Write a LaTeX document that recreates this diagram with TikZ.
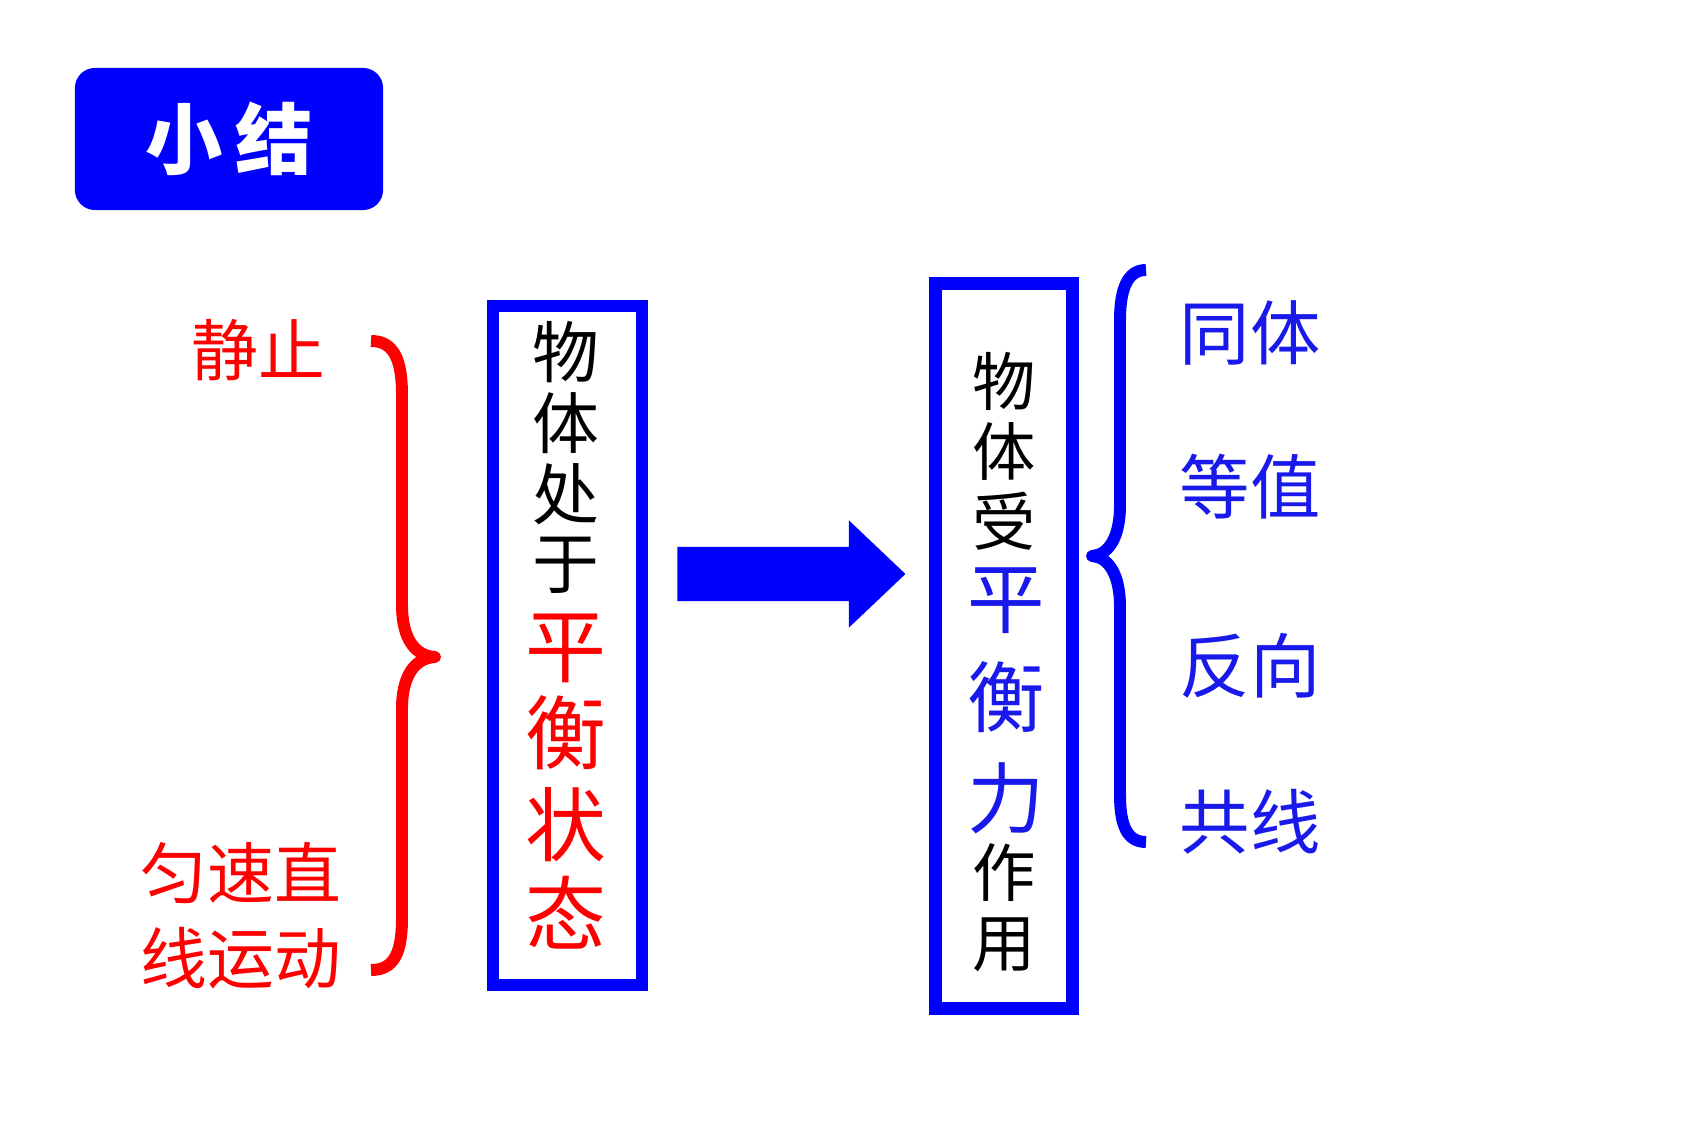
\documentclass[tikz,border=0pt]{standalone}
\usepackage{fontspec}
\setmainfont{Noto Sans CJK SC}
\usetikzlibrary{shapes.arrows}
\definecolor{boxblue}{RGB}{0,0,255}
\definecolor{hired}{RGB}{255,0,0}
\definecolor{txtblue}{RGB}{25,25,235}
\begin{document}
\begin{tikzpicture}[x=0.01cm,y=-0.01cm,
	  kuang/.style={draw=boxblue,inner sep=0pt},
	  zi/.style={inner sep=0pt,font=\fontsize{19pt}{19pt}\selectfont},
	  dazi/.style={inner sep=0pt,font=\fontsize{23pt}{23pt}\selectfont},
	  youzi/.style={inner sep=0pt,text=txtblue,font=\fontsize{20pt}{20pt}\selectfont}]
	  \useasboundingbox (0,0) rectangle (1700,1134);
	  \node[fill=boxblue,rounded corners=0.2cm,minimum width=3.08cm,minimum height=1.42cm,
	    text=white,font=\fontsize{22pt}{22pt}\selectfont\bfseries] (title) at (229,139) {小\hspace{0.13cm}结};
	  % left brace
	  \node[zi,text=hired] (r1) at (258,350) {静止};
	  \node[zi,text=hired] (r2) at (241,873) {匀速直};
	  \node[zi,text=hired] (r3) at (241,958) {线运动};
	  \draw[hired,line width=3.4pt,line join=round] (371,341) .. controls (394,341) and (402,360) .. (402,395)
	    -- (402,605) .. controls (402,640) and (416,656) .. (435,657)
	    .. controls (416,658) and (402,674) .. (402,709)
	    -- (402,918) .. controls (402,953) and (394,970) .. (371,970);
	  % box 1
	  \node[kuang,line width=3.4pt,minimum width=1.49cm,minimum height=6.79cm] (box1) at (567.5,645.5) {};
	  \node[zi] (a1) at (566,352) {物};
	  \node[zi] (a2) at (566,423) {体};
	  \node[zi] (a3) at (566,494) {处};
	  \node[zi] (a4) at (566,565) {于};
	  \node[dazi,text=hired] (a5) at (566,648) {平};
	  \node[dazi,text=hired] (a6) at (566,733) {衡};
	  \node[dazi,text=hired] (a7) at (566,825) {状};
	  \node[dazi,text=hired] (a8) at (566,913) {态};
	  % arrow
	  \node[single arrow,fill=boxblue,inner xsep=0pt,inner ysep=0.265cm,single arrow head extend=0.265cm,
	    single arrow tip angle=87,minimum height=2.28cm] (jiantou) at (777,574) {};
	  % box 2
	  \node[kuang,line width=3.7pt,minimum width=1.365cm,minimum height=7.24cm] (box2) at (1003.75,646) {};
	  \node[zi,font=\fontsize{18pt}{18pt}\selectfont] (b1) at (1004,381) {物};
	  \node[zi,font=\fontsize{18pt}{18pt}\selectfont] (b2) at (1004,451) {体};
	  \node[zi,font=\fontsize{18pt}{18pt}\selectfont] (b3) at (1004,521) {受};
	  \node[dazi,text=txtblue,font=\fontsize{22pt}{22pt}\selectfont] (b4) at (1006,601) {平};
	  \node[dazi,text=txtblue,font=\fontsize{22pt}{22pt}\selectfont] (b5) at (1006,697) {衡};
	  \node[dazi,text=txtblue,font=\fontsize{22pt}{22pt}\selectfont] (b6) at (1006,798) {力};
	  \node[zi,font=\fontsize{18pt}{18pt}\selectfont] (b7) at (1004,873) {作};
	  \node[zi,font=\fontsize{18pt}{18pt}\selectfont] (b8) at (1004,945) {用};
	  % right brace
	  \draw[boxblue,line width=3.4pt,line join=round] (1146,270) .. controls (1128,270) and (1120,288) .. (1120,320)
	    -- (1120,505) .. controls (1120,540) and (1107,555) .. (1092,556)
	    .. controls (1107,557) and (1120,572) .. (1120,607)
	    -- (1120,795) .. controls (1120,827) and (1128,842) .. (1146,842);
	  \node[youzi] (t1) at (1250,333) {同体};
	  \node[youzi] (t2) at (1250,487) {等值};
	  \node[youzi] (t3) at (1250,666) {反向};
	  \node[youzi] (t4) at (1250,822) {共线};
	\end{tikzpicture}
\end{document}
